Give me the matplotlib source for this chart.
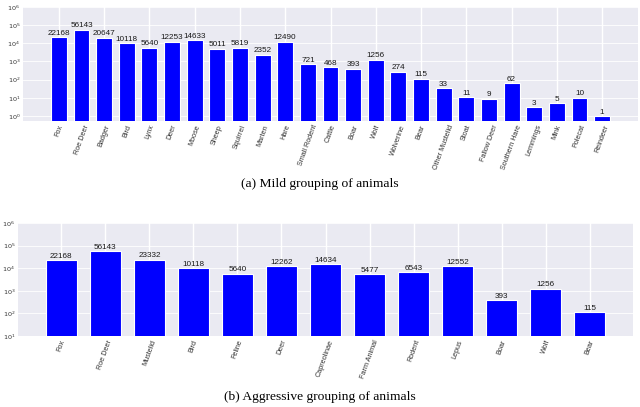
import matplotlib
matplotlib.use("Agg")
import matplotlib.pyplot as plt
import numpy as np

mild_names = ["Fox", "Roe Deer", "Badger", "Bird", "Lynx", "Deer", "Moose", "Sheep",
              "Squirrel", "Marten", "Hare", "Small Rodent", "Cattle", "Boar", "Wolf",
              "Wolverine", "Bear", "Other Mustelid", "Stoat", "Fallow Deer",
              "Southern Hare", "Lemmings", "Mink", "Polecat", "Reindeer"]
mild_counts = [22168, 56143, 20647, 10118, 5640, 12253, 14633, 5011, 5819, 2352,
               12490, 721, 468, 393, 1256, 274, 115, 33, 11, 9, 62, 3, 5, 10, 1]

aggr_names = ["Fox", "Roe Deer", "Mustelid", "Bird", "Feline", "Deer", "Capreolinae",
              "Farm Animal", "Rodent", "Lepus", "Boar", "Wolf", "Bear"]
aggr_counts = [22168, 56143, 23332, 10118, 5640, 12262, 14634, 5477, 6543, 12552,
               393, 1256, 115]

captions = ["(a) Mild grouping of animals", "(b) Aggressive grouping of animals"]

W, H = 640, 407
fig = plt.figure(figsize=(W / 100, H / 100), dpi=100)

BG = "#EAEAF2"


def panel(rect, names, counts, ylim, even_grid):
    ax = fig.add_axes(rect)
    ax.set_facecolor(BG)
    x = np.arange(len(names))
    bars = ax.bar(x, counts, width=0.7, color="#0000FF", edgecolor="white",
                  linewidth=0.8, zorder=3)
    ax.set_yscale("log")
    ax.set_ylim(*ylim)
    ax.yaxis.set_major_locator(matplotlib.ticker.LogLocator(base=10, numticks=20))
    ax.yaxis.set_minor_locator(matplotlib.ticker.NullLocator())
    for s in ax.spines.values():
        s.set_visible(False)
    if even_grid:
        maj = x[::2]
        mnr = x[1::2]
        ax.set_xticks(maj, [names[i] for i in maj])
        ax.set_xticks(mnr, [names[i] for i in mnr], minor=True)
    else:
        ax.set_xticks(x, names)
    for lab in ax.get_xticklabels(which="both"):
        lab.set_rotation(70)
        lab.set_ha("center")
        lab.set_va("top")
        lab.set_fontproperties(matplotlib.font_manager.FontProperties(
            family="Liberation Sans", size=5.2))
        lab.set_color("#333333")
    ax.tick_params(axis="both", which="both", length=0, pad=2)
    ax.tick_params(axis="y", labelsize=4.6, labelcolor="#333333")
    ax.xaxis.grid(True, which="major", color="white", linewidth=1.0, zorder=0)
    ax.yaxis.grid(True, which="major", color="white", linewidth=0.6, zorder=0)
    ax.set_axisbelow(True)
    for b, v in zip(bars, counts):
        ax.annotate(str(v), (b.get_x() + b.get_width() / 2, v), xytext=(0, 0.3),
                    textcoords="offset points", ha="center", va="bottom",
                    fontsize=5.9, family="Liberation Sans", color="#1a1a1a")
    return ax


panel([23 / W, 1 - 121 / H, 615 / W, 114 / H], mild_names, mild_counts, (0.53, 1e6), True)
panel([18 / W, 1 - 336 / H, 615 / W, 113 / H], aggr_names, aggr_counts, (10, 1e6), False)

fig.text(0.5, 1 - 184 / H, captions[0], ha="center", va="center",
         family="Liberation Serif", fontsize=9.7)
fig.text(0.5, 1 - 397 / H, captions[1], ha="center", va="center",
         family="Liberation Serif", fontsize=9.7)

fig.savefig("out.png", dpi=100)
